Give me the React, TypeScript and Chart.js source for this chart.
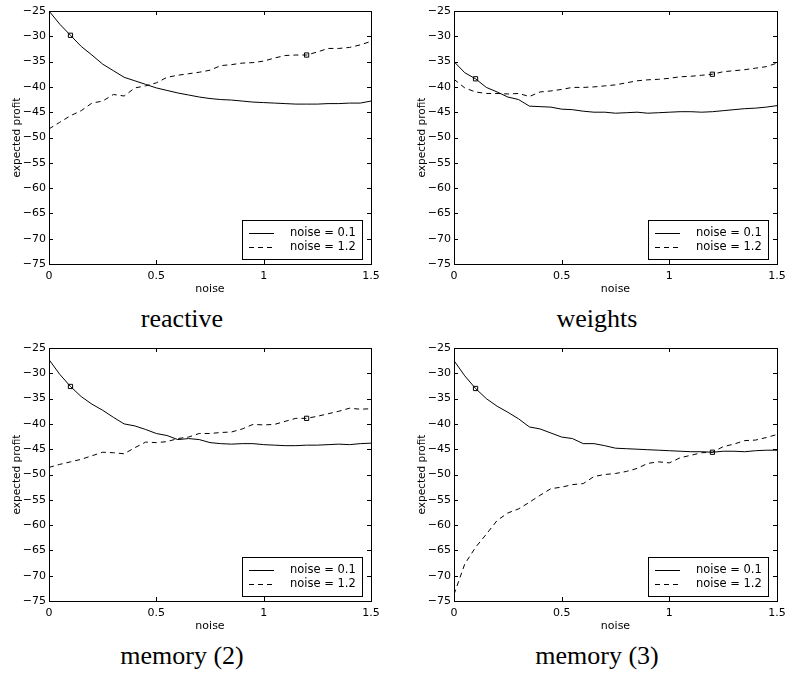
import React, { useEffect, useRef } from "react";
import { Chart, registerables } from "chart.js";

Chart.register(...registerables);

// ---- data -------------------------------------------------------------
const noiseLevels = [
  0, 0.05, 0.1, 0.15, 0.2, 0.25, 0.3, 0.35, 0.4, 0.45, 0.5, 0.55, 0.6, 0.65, 0.7, 0.75,
  0.8, 0.85, 0.9, 0.95, 1.0, 1.05, 1.1, 1.15, 1.2, 1.25, 1.3, 1.35, 1.4, 1.45, 1.5,
];

const seriesLabels = ["noise = 0.1", "noise = 1.2"];
const markerNoise = [0.1, 1.2];

const panelTitles = ["reactive", "weights", "memory (2)", "memory (3)"];

const reactiveLow = [
  -25.0, -27.6, -29.8, -32.0, -33.7, -35.5, -36.8, -38.1, -38.8, -39.5, -40.2, -40.7, -41.2, -41.6, -42.0, -42.3,
  -42.5, -42.6, -42.8, -43.0, -43.1, -43.2, -43.3, -43.4, -43.4, -43.4, -43.3, -43.3, -43.2, -43.2, -42.8,
];
const reactiveHigh = [
  -48.3, -47.0, -45.7, -44.7, -43.2, -42.8, -41.5, -41.8, -40.2, -39.8, -39.2, -38.1, -37.7, -37.4, -37.1, -36.7,
  -35.8, -35.6, -35.3, -35.2, -34.9, -34.3, -33.8, -33.7, -33.7, -33.1, -32.4, -32.4, -32.2, -31.7, -31.0,
];

const weightsLow = [
  -35.0, -37.2, -38.4, -40.1, -41.0, -42.0, -42.5, -43.8, -43.9, -44.0, -44.4, -44.5, -44.8, -45.0, -45.0, -45.2,
  -45.1, -45.0, -45.2, -45.1, -45.0, -44.9, -44.9, -45.0, -44.9, -44.7, -44.5, -44.3, -44.2, -44.0, -43.7,
];
const weightsHigh = [
  -38.5, -40.2, -41.0, -41.3, -41.3, -41.4, -41.3, -41.9, -41.0, -40.8, -40.5, -40.1, -40.1, -40.0, -39.8, -39.6,
  -39.2, -38.8, -38.6, -38.5, -38.3, -38.0, -37.9, -37.7, -37.5, -37.0, -36.8, -36.6, -36.3, -36.0, -35.3,
];

const memory2Low = [
  -27.3, -30.2, -32.6, -34.6, -36.1, -37.3, -38.7, -40.0, -40.4, -41.1, -41.9, -42.3, -43.1, -42.9, -43.1, -43.7,
  -43.9, -44.0, -43.9, -43.9, -44.1, -44.2, -44.3, -44.3, -44.2, -44.2, -44.1, -44.0, -44.1, -43.9, -43.8,
];
const memory2High = [
  -48.6, -48.0, -47.5, -47.0, -46.3, -45.6, -45.7, -45.9, -44.7, -43.6, -43.7, -43.5, -42.9, -42.6, -41.9, -41.9,
  -41.7, -41.6, -41.0, -40.1, -40.2, -40.1, -39.5, -38.9, -38.9, -38.5, -38.0, -37.5, -36.9, -37.1, -37.0,
];

const memory3Low = [
  -27.5, -30.5, -33.0, -35.0, -36.5, -37.7, -39.0, -40.6, -41.0, -41.8, -42.6, -42.9, -43.9, -43.9, -44.3, -44.8,
  -44.9, -45.0, -45.1, -45.2, -45.3, -45.4, -45.5, -45.5, -45.6, -45.4, -45.4, -45.5, -45.3, -45.2, -45.2,
];
const memory3High = [
  -73.7, -67.7, -64.4, -61.8, -59.1, -57.6, -56.8, -55.5, -54.1, -52.8, -52.5, -52.0, -51.8, -50.4, -50.0, -49.8,
  -49.4, -48.8, -47.8, -47.5, -47.7, -46.7, -46.2, -45.7, -45.6, -44.5, -44.0, -43.3, -43.2, -42.7, -42.1,
];

const xMin = 0;
const xMax = 1.5;
const xStep = 0.5;
const yMin = -75;
const yMax = -25;
const yStep = 5;

// ---- styling ----------------------------------------------------------
const SANS = '"DejaVu Sans", "Liberation Sans", sans-serif';
const SERIF = '"Liberation Serif", "DejaVu Serif", serif';

const fmtTick = (v: number | string) => String(v).replace("-", "\u2212");

// Box + inward ticks + legend (MATLAB style)
const matlabPlugin = {
  id: "matlabBox",
  afterDraw(chart: any) {
    const { ctx, chartArea: a, scales } = chart;
    ctx.save();
    ctx.strokeStyle = "#000";
    ctx.lineWidth = 1;
    ctx.setLineDash([]);
    // box
    ctx.strokeRect(Math.round(a.left) + 0.5, Math.round(a.top) + 0.5, Math.round(a.right - a.left), Math.round(a.bottom - a.top));
    const tl = 4;
    ctx.beginPath();
    scales.x.ticks.forEach((t: any) => {
      const px = Math.round(scales.x.getPixelForValue(t.value)) + 0.5;
      ctx.moveTo(px, a.bottom);
      ctx.lineTo(px, a.bottom - tl);
      ctx.moveTo(px, a.top);
      ctx.lineTo(px, a.top + tl);
    });
    scales.y.ticks.forEach((t: any) => {
      const py = Math.round(scales.y.getPixelForValue(t.value)) + 0.5;
      ctx.moveTo(a.left, py);
      ctx.lineTo(a.left + tl, py);
      ctx.moveTo(a.right, py);
      ctx.lineTo(a.right - tl, py);
    });
    ctx.stroke();

    // legend
    const bw = 120;
    const bh = 39;
    const bx = Math.round(a.right) - 129;
    const by = Math.round(a.bottom) - 44;
    ctx.fillStyle = "#fff";
    ctx.fillRect(bx, by, bw, bh);
    ctx.strokeRect(bx + 0.5, by + 0.5, bw, bh);
    ctx.font = `11.5px ${SANS}`;
    ctx.textBaseline = "middle";
    ctx.textAlign = "left";
    chart.data.datasets.forEach((ds: any, i: number) => {
      const y = by + 13 + i * 14;
      ctx.setLineDash(ds.borderDash || []);
      ctx.beginPath();
      ctx.moveTo(bx + 7, y + 0.5);
      ctx.lineTo(bx + 32, y + 0.5);
      ctx.stroke();
      ctx.setLineDash([]);
      ctx.fillStyle = "#000";
      ctx.fillText(ds.label, bx + 48, y);
    });
    ctx.restore();
  },
};

type PanelProps = {
  low: number[];
  high: number[];
  title: string;
  left: number;
  top: number;
  width: number;
  rightPad: number;
  captionCenter: number;
};

function Panel({ low, high, title, left, top, width, rightPad, captionCenter }: PanelProps) {
  const ref = useRef<HTMLCanvasElement | null>(null);
  const height = 300;

  useEffect(() => {
    if (!ref.current) return;
    const mk = (vals: number[], label: string, dash: number[], mark: number) => ({
      label,
      data: noiseLevels.map((x, i) => ({ x, y: vals[i] })),
      borderColor: "#000",
      borderWidth: 1,
      borderDash: dash,
      tension: 0,
      fill: false,
      pointStyle: "rect",
      pointRadius: noiseLevels.map((x) => (Math.abs(x - mark) < 1e-9 ? 3 : 0)),
      pointBorderColor: "#000",
      pointBackgroundColor: "rgba(0,0,0,0)",
      pointBorderWidth: 1,
    });
    const tickFont = { family: SANS, size: 11 };
    const chart = new Chart(ref.current, {
      type: "line",
      data: {
        datasets: [
          mk(low, seriesLabels[0], [], markerNoise[0]),
          mk(high, seriesLabels[1], [5, 4], markerNoise[1]),
        ] as any,
      },
      options: {
        responsive: false,
        animation: false,
        events: [],
        layout: { padding: { top: 11, left: 0, right: rightPad, bottom: 4 } },
        plugins: { legend: { display: false }, tooltip: { enabled: false } },
        scales: {
          x: {
            type: "linear",
            min: xMin,
            max: xMax,
            grid: { display: false, drawTicks: false },
            border: { display: false },
            ticks: { stepSize: xStep, padding: 6, maxRotation: 0, color: "#000", font: tickFont, callback: (v: any) => fmtTick(v) },
            title: { display: true, text: "noise", color: "#000", font: tickFont, padding: 0 },
            afterFit: (s: any) => {
              s.height = 32;
              s.paddingLeft = 0;
              s.paddingRight = 0;
            },
          },
          y: {
            type: "linear",
            min: yMin,
            max: yMax,
            grid: { display: false, drawTicks: false },
            border: { display: false },
            ticks: { stepSize: yStep, padding: 3, color: "#000", font: tickFont, callback: (v: any) => fmtTick(v) },
            title: { display: true, text: "expected profit", color: "#000", font: { family: SANS, size: 10.5 }, padding: { top: 11, bottom: 0 } },
            afterFit: (s: any) => {
              s.width = 49;
              s.paddingTop = 0;
              s.paddingBottom = 0;
            },
          },
        },
      } as any,
      plugins: [matlabPlugin],
    });
    return () => chart.destroy();
  }, [low, high, rightPad]);

  return (
    <>
      <canvas
        ref={ref}
        width={width}
        height={height}
        style={{ position: "absolute", left, top, width, height }}
      />
      <div
        style={{
          position: "absolute",
          left: captionCenter - 150,
          top: top + 306,
          width: 300,
          textAlign: "center",
          fontFamily: SERIF,
          fontSize: 26,
          lineHeight: "26px",
          color: "#000",
          whiteSpace: "nowrap",
        }}
      >
        {title}
      </div>
    </>
  );
}

export default function App() {
  return (
    <div style={{ position: "absolute", left: 0, top: 0, width: 787, height: 673, background: "#fff", overflow: "hidden" }}>
      <Panel low={reactiveLow} high={reactiveHigh} title={panelTitles[0]} left={0} top={0} width={390} rightPad={19} captionCenter={182} />
      <Panel low={weightsLow} high={weightsHigh} title={panelTitles[1]} left={405} top={0} width={382} rightPad={10} captionCenter={597} />
      <Panel low={memory2Low} high={memory2High} title={panelTitles[2]} left={0} top={337} width={390} rightPad={19} captionCenter={182} />
      <Panel low={memory3Low} high={memory3High} title={panelTitles[3]} left={405} top={337} width={382} rightPad={10} captionCenter={597} />
    </div>
  );
}
